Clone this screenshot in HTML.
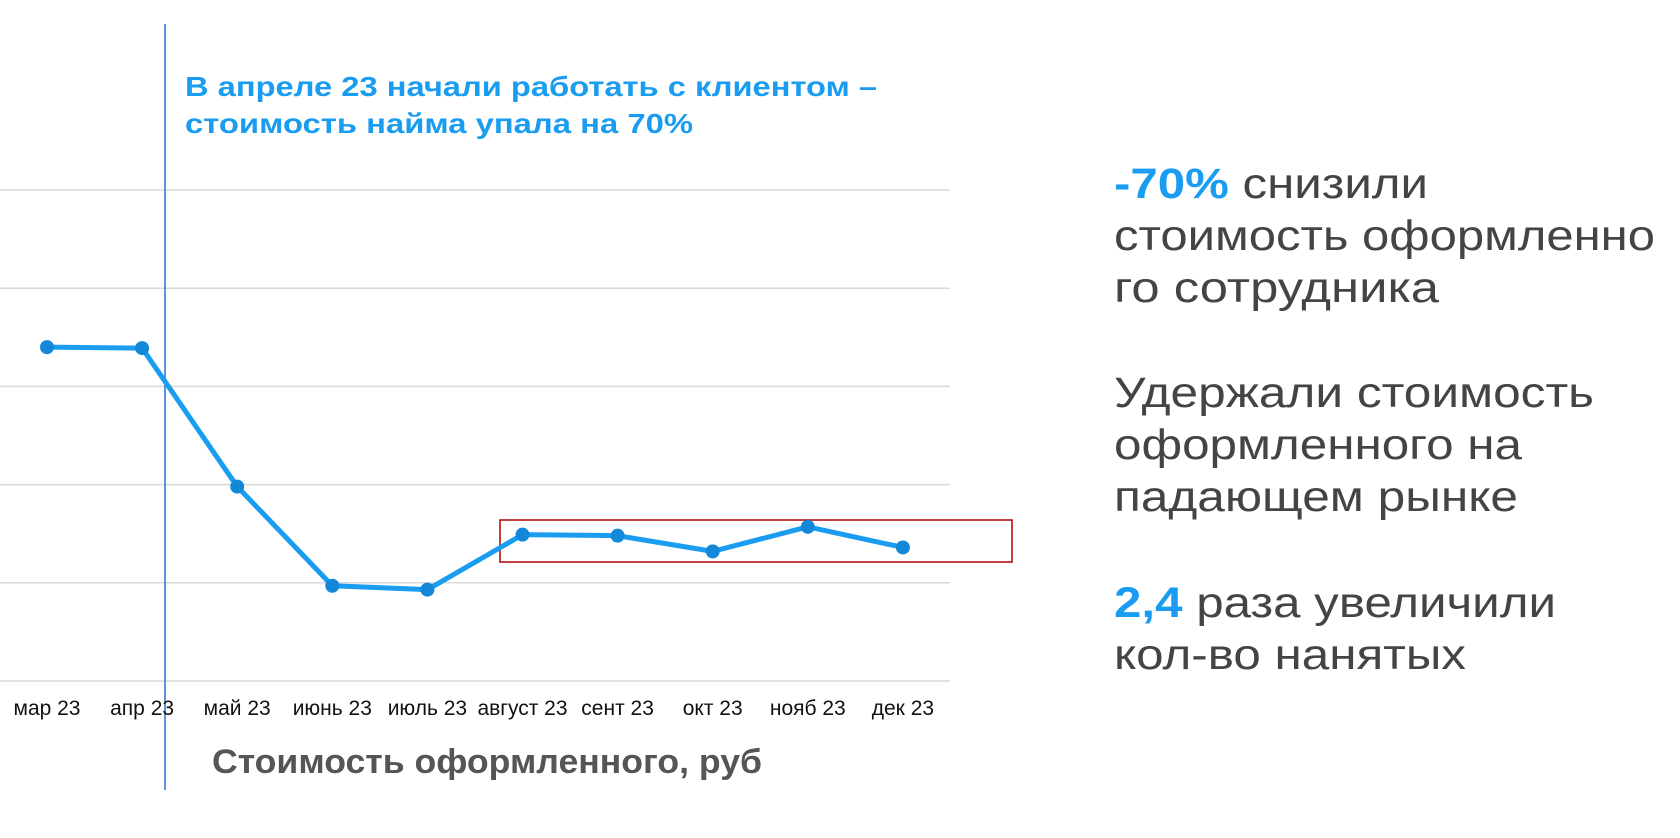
<!DOCTYPE html>
<html><head><meta charset="utf-8"><style>
html,body{margin:0;padding:0;background:#fff;}
svg{display:block;}
</style></head><body>
<svg id="chart" width="1680" height="838" viewBox="0 0 1680 838" xmlns="http://www.w3.org/2000/svg">
<g id="grid"></g>
<line x1="165" y1="24" x2="165" y2="790" stroke="#2f6fd6" stroke-width="1.5"/>
<text x="185" y="96" font-family="Liberation Sans, sans-serif" font-weight="bold" font-size="28" fill="#1a9cf0" textLength="692" lengthAdjust="spacingAndGlyphs">В апреле 23 начали работать с клиентом –</text>
<text x="185" y="133" font-family="Liberation Sans, sans-serif" font-weight="bold" font-size="28" fill="#1a9cf0" textLength="508" lengthAdjust="spacingAndGlyphs">стоимость найма упала на 70%</text>
<rect x="500" y="520" width="512" height="42" fill="none" stroke="#b00000" stroke-width="1.5"/>
<g id="series"></g>
<g id="xlabels"></g>
<text x="487" y="773" text-anchor="middle" font-family="Liberation Sans, sans-serif" font-weight="bold" font-size="34" fill="#555" textLength="550" lengthAdjust="spacingAndGlyphs">Стоимость оформленного, руб</text>
<g font-family="Liberation Sans, sans-serif" font-size="43" fill="#444">
<text x="1114" y="198" textLength="314" lengthAdjust="spacingAndGlyphs"><tspan fill="#1a9cf0" font-weight="bold">-70%</tspan> снизили</text>
<text x="1114" y="250" textLength="541" lengthAdjust="spacingAndGlyphs">стоимость оформленно</text>
<text x="1114" y="302" textLength="325" lengthAdjust="spacingAndGlyphs">го сотрудника</text>
<text x="1114" y="407" textLength="480" lengthAdjust="spacingAndGlyphs">Удержали стоимость</text>
<text x="1114" y="459" textLength="408" lengthAdjust="spacingAndGlyphs">оформленного на</text>
<text x="1114" y="511" textLength="404" lengthAdjust="spacingAndGlyphs">падающем рынке</text>
<text x="1114" y="617" textLength="442" lengthAdjust="spacingAndGlyphs"><tspan fill="#1a9cf0" font-weight="bold">2,4</tspan> раза увеличили</text>
<text x="1114" y="669" textLength="352" lengthAdjust="spacingAndGlyphs">кол-во нанятых</text>
</g>
</svg>
<script>
const categories = ["мар 23","апр 23","май 23","июнь 23","июль 23","август 23","сент 23","окт 23","нояб 23","дек 23"];
const costValues = [3.40, 3.39, 1.98, 0.97, 0.93, 1.49, 1.48, 1.32, 1.57, 1.36];
const gridTicks = [0, 1, 2, 3, 4, 5];
const NS = "http://www.w3.org/2000/svg";
const x0 = 47, xStep = 95.1;
const yBase = 681, yUnit = 98.2;
function xScale(i){ return x0 + i * xStep; }
function yScale(v){ return yBase - v * yUnit; }
const grid = document.getElementById('grid');
gridTicks.forEach(t => {
  const l = document.createElementNS(NS, 'line');
  l.setAttribute('x1', 0); l.setAttribute('x2', 950);
  l.setAttribute('y1', yScale(t)); l.setAttribute('y2', yScale(t));
  l.setAttribute('stroke', '#d9d9d9'); l.setAttribute('stroke-width', '1.5');
  
  
  grid.appendChild(l);
});
const series = document.getElementById('series');
const path = document.createElementNS(NS, 'polyline');
path.setAttribute('points', costValues.map((v,i) => xScale(i) + ',' + yScale(v)).join(' '));
path.setAttribute('fill', 'none'); path.setAttribute('stroke', '#1a9cf0');
path.setAttribute('stroke-width', '5'); path.setAttribute('stroke-linejoin', 'round');


series.appendChild(path);
costValues.forEach((v,i) => {
  const c = document.createElementNS(NS, 'circle');
  c.setAttribute('cx', xScale(i)); c.setAttribute('cy', yScale(v)); c.setAttribute('r', 7);
  c.setAttribute('fill', '#1488d8');
  
  
  series.appendChild(c);
});
const xl = document.getElementById('xlabels');
categories.forEach((c,i) => {
  const t = document.createElementNS(NS, 'text');
  t.setAttribute('x', xScale(i)); t.setAttribute('y', 715);
  t.setAttribute('text-anchor', 'middle');
  t.setAttribute('font-family', 'Liberation Sans, sans-serif');
  t.setAttribute('font-size', '21'); t.setAttribute('fill', '#111');
  
  
  t.textContent = c;
  xl.appendChild(t);
});
</script>
</body></html>
